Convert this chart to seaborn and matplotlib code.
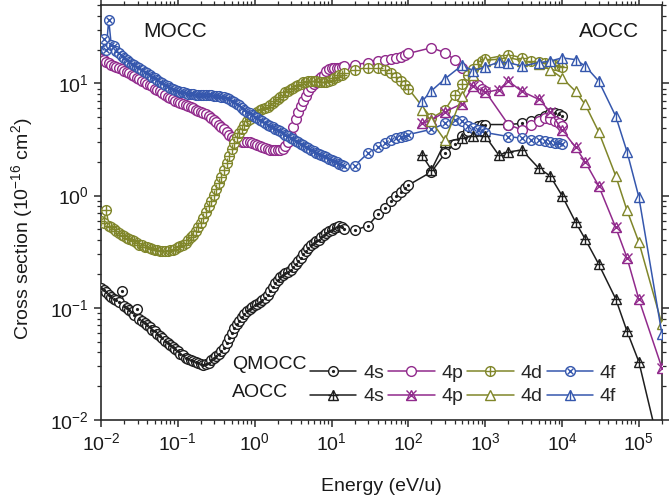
import matplotlib
matplotlib.use("Agg")
import matplotlib.pyplot as plt
import seaborn as sns
from matplotlib.lines import Line2D
from matplotlib.ticker import LogLocator, NullFormatter

# ---------------- data ----------------
# QMOCC, dense low-energy grid (eV/u)
E_dense = [0.0100, 0.0108, 0.0117, 0.0126, 0.0136, 0.0147, 0.0158, 0.0171, 0.0185, 0.0200,
           0.0215, 0.0233, 0.0251, 0.0271, 0.0293, 0.0316, 0.0341, 0.0369, 0.0398, 0.0430,
           0.0464, 0.0501, 0.0541, 0.0584, 0.0631, 0.0681, 0.0736, 0.0794, 0.0858, 0.0926,
           0.100, 0.108, 0.117, 0.126, 0.136, 0.147, 0.158, 0.171, 0.185, 0.200,
           0.215, 0.233, 0.251, 0.271, 0.293, 0.316, 0.341, 0.369, 0.398, 0.430,
           0.464, 0.501, 0.541, 0.584, 0.631, 0.681, 0.736, 0.794, 0.858, 0.926,
           1.00, 1.08, 1.17, 1.26, 1.36, 1.47, 1.58, 1.71, 1.85, 2.00,
           2.15, 2.33, 2.51, 2.71, 2.93, 3.16, 3.41, 3.69, 3.98, 4.30,
           4.64, 5.01, 5.41, 5.84, 6.31, 6.81, 7.36, 7.94, 8.58, 9.26,
           10.0, 10.8, 11.7, 12.6, 13.6, 14.7]
q4s_dense = [0.150, 0.144, 0.138, 0.131, 0.126, 0.121, 0.117, 0.112, 0.140, 0.103,
             0.099, 0.095, 0.091, 0.087, 0.097, 0.080, 0.077, 0.073, 0.070, 0.067,
             0.064, 0.062, 0.059, 0.056, 0.054, 0.051, 0.049, 0.047, 0.045, 0.043,
             0.041, 0.039, 0.038, 0.036, 0.035, 0.034, 0.0335, 0.033, 0.032, 0.0315,
             0.031, 0.0315, 0.032, 0.034, 0.0355, 0.037, 0.039, 0.041, 0.044, 0.049,
             0.054, 0.060, 0.066, 0.072, 0.077, 0.082, 0.088, 0.093, 0.097, 0.101,
             0.105, 0.109, 0.113, 0.117, 0.123, 0.130, 0.140, 0.152, 0.165, 0.178,
             0.188, 0.196, 0.203, 0.210, 0.218, 0.230, 0.245, 0.262, 0.280, 0.300,
             0.320, 0.340, 0.360, 0.375, 0.390, 0.405, 0.425, 0.445, 0.462, 0.480,
             0.495, 0.510, 0.525, 0.535, 0.525, 0.505]
q4p_dense = [16.5, 16.1, 15.6, 15.1, 14.7, 14.3, 14.0, 13.7, 13.4, 13.0,
             12.7, 12.3, 12.0, 11.6, 11.2, 10.9, 10.6, 10.2, 9.9, 9.7,
             9.4, 9.0, 8.8, 8.5, 8.2, 7.9, 7.6, 7.4, 7.2, 7.0,
             6.85, 6.75, 6.6, 6.45, 6.3, 6.15, 6.0, 5.85, 5.7, 5.55,
             5.4, 5.3, 5.1, 4.9, 4.7, 4.5, 4.3, 4.1, 3.9, 3.7,
             3.5, 3.3, 3.2, 3.1, 3.05, 3.0, 3.0, 3.0, 3.0, 2.95,
             2.9, 2.85, 2.78, 2.72, 2.66, 2.6, 2.57, 2.55, 2.54, 2.54,
             2.56, 2.62, 2.75, 3.0, 3.4, 4.1, 4.8, 5.6, 6.3, 7.0,
             7.8, 8.5, 9.3, 9.8, 10.4, 11.0, 11.5, 12.0, 12.8, 13.4,
             13.6, 13.6, 13.6, 13.8, 14.0, 14.3]
q4d_dense = [0.60, 0.57, 0.75, 0.54, 0.52, 0.50, 0.48, 0.465, 0.45, 0.435,
             0.42, 0.41, 0.40, 0.39, 0.375, 0.365, 0.36, 0.35, 0.345, 0.34,
             0.335, 0.33, 0.325, 0.32, 0.32, 0.32, 0.322, 0.325, 0.33, 0.335,
             0.345, 0.355, 0.365, 0.38, 0.40, 0.425, 0.45, 0.48, 0.52, 0.57,
             0.63, 0.71, 0.80, 0.90, 1.02, 1.15, 1.30, 1.48, 1.68, 1.95,
             2.25, 2.6, 2.95, 3.3, 3.65, 3.95, 4.3, 4.6, 4.85, 5.1,
             5.35, 5.55, 5.75, 5.9, 6.05, 6.2, 6.4, 6.65, 6.9, 7.2,
             7.55, 7.9, 8.3, 8.6, 8.9, 9.15, 9.4, 9.7, 9.95, 10.2,
             10.4, 10.55, 10.6, 10.55, 10.45, 10.3, 10.2, 10.2, 10.3, 10.5,
             10.8, 11.1, 11.5, 11.8, 12.0, 12.3]
q4f_dense = [21.0, 25.0, 20.0, 37.0, 22.0, 21.5, 19.5, 18.5, 17.5, 16.8,
             16.2, 15.6, 15.0, 14.5, 14.0, 13.6, 13.1, 12.7, 12.3, 11.9,
             11.5, 11.1, 10.7, 10.3, 10.0, 9.7, 9.4, 9.1, 8.9, 8.7,
             8.55, 8.4, 8.3, 8.2, 8.1, 8.0, 8.0, 7.95, 7.9, 7.9,
             7.9, 7.9, 7.9, 7.85, 7.8, 7.8, 7.7, 7.6, 7.5, 7.35,
             7.2, 7.0, 6.8, 6.6, 6.4, 6.1, 5.85, 5.6, 5.4, 5.2,
             5.05, 4.9, 4.75, 4.6, 4.45, 4.3, 4.2, 4.05, 3.95, 3.85,
             3.75, 3.62, 3.5, 3.4, 3.28, 3.18, 3.08, 2.98, 2.88, 2.8,
             2.72, 2.64, 2.56, 2.48, 2.42, 2.36, 2.3, 2.25, 2.2, 2.14,
             2.08, 2.03, 1.98, 1.93, 1.88, 1.83]

# QMOCC, sparse high-energy grid (eV/u)
E_sparse = [20, 30, 40, 50, 60, 70, 80, 90, 100,
            200, 300, 400, 500, 600, 700, 800, 900, 1000,
            2000, 3000, 4000, 5000, 6000, 7000, 8000, 9000, 10000]
q4s_sparse = [0.49, 0.54, 0.68, 0.78, 0.90, 1.00, 1.08, 1.16, 1.24,
              1.63, 2.38, 2.90, 3.40, 3.80, 4.00, 4.15, 4.25, 4.30,
              4.30, 4.40, 4.60, 4.80, 5.10, 5.40, 5.40, 5.30, 5.10]
q4p_sparse = [14.7, 15.3, 15.8, 16.3, 16.5, 16.9, 17.3, 17.8, 18.5,
              20.8, 18.8, 16.3, 13.8, 12.0, 10.5, 9.6, 9.0, 8.5,
              4.3, 3.85, 4.3, 4.6, 4.9, 4.8, 4.6, 4.4, 4.2]
q4d_sparse = [13.3, 13.8, 13.8, 13.3, 12.4, 11.5, 10.5, 9.6, 9.0,
              4.9, 5.8, 7.9, 9.8, 12.0, 13.5, 14.8, 15.8, 16.5,
              18.1, 16.9, 15.8, 15.5, 15.3, 15.0, 14.6, 14.3, 14.0]
q4f_sparse = [1.85, 2.4, 2.7, 2.95, 3.1, 3.25, 3.35, 3.42, 3.5,
              3.9, 4.4, 4.7, 4.6, 4.2, 4.0, 3.85, 3.75, 3.65,
              3.36, 3.25, 3.15, 3.1, 3.05, 3.0, 2.95, 2.92, 2.9]

# AOCC grid (eV/u)
E_aocc = [150, 200, 300, 500, 700, 1000, 1500, 2000, 3000, 5000,
          7000, 10000, 15000, 20000, 30000, 50000, 70000, 100000, 200000]
a4s = [2.3, 1.7, 3.0, 3.25, 3.4, 3.4, 2.3, 2.45, 2.55, 1.75,
       1.5, 1.0, 0.58, 0.41, 0.245, 0.12, 0.062, 0.033, 0.0045]
a4p = [4.4, 4.7, 5.6, 6.6, 9.5, 8.3, 8.8, 10.5, 8.5, 7.2,
       5.6, 3.85, 2.7, 2.0, 1.22, 0.52, 0.28, 0.119, 0.029]
a4d = [5.8, 4.6, 3.1, 7.7, 12.0, 16.0, 16.5, 17.0, 16.0, 14.8,
       13.3, 11.2, 8.5, 6.5, 3.7, 1.5, 0.74, 0.385, 0.071]
a4f = [6.9, 8.6, 11.0, 14.5, 13.0, 14.0, 15.5, 15.3, 14.3, 15.3,
       15.8, 16.9, 16.3, 14.3, 10.5, 5.1, 2.47, 0.97, 0.058]

orbitals = ["4s", "4p", "4d", "4f"]
colors = {"4s": "#1e1e1e", "4p": "#912a8c", "4d": "#80862a", "4f": "#3557ad"}

# ---------------- style ----------------
sns.set_theme(style="ticks")
plt.rcParams["font.family"] = ["Liberation Sans", "DejaVu Sans"]
plt.rcParams["mathtext.fontset"] = "custom"
plt.rcParams["mathtext.rm"] = "Liberation Sans"
plt.rcParams["mathtext.it"] = "Liberation Sans:italic"
plt.rcParams["mathtext.bf"] = "Liberation Sans:bold"
plt.rcParams["axes.unicode_minus"] = False

FS = 14
MS = 7.0
MS_TRI = 7.4
MEW = 1.0
LW = 1.1

fig = plt.figure(figsize=(6.71, 5.04), dpi=100)
ax = fig.add_axes([101 / 671, 84 / 504, 561 / 671, 415 / 504])
ax.set_xscale("log")
ax.set_yscale("log")


def draw(E, V, color, base, size, overlay=None, ov_size=None):
    sns.lineplot(x=E, y=V, ax=ax, color=color, linewidth=LW, marker=base,
                 markersize=size, markerfacecolor="white", markeredgecolor=color,
                 markeredgewidth=MEW, estimator=None, sort=False, legend=False,
                 zorder=3)
    if overlay is not None:
        sns.lineplot(x=E, y=V, ax=ax, color=color, linestyle="", marker=overlay,
                     markersize=ov_size, markerfacecolor=color,
                     markeredgecolor=color, markeredgewidth=MEW,
                     estimator=None, sort=False, legend=False, zorder=3)


def proxy(color, base, size, overlay=None, ov_size=None):
    h1 = Line2D([], [], color=color, lw=LW, marker=base, ms=size, mfc="white",
                mec=color, mew=MEW)
    if overlay is None:
        return h1
    h2 = Line2D([], [], color=color, ls="", marker=overlay, ms=ov_size,
                mfc=color, mec=color, mew=MEW)
    return (h1, h2)


q_dense = {"4s": q4s_dense, "4p": q4p_dense, "4d": q4d_dense, "4f": q4f_dense}
q_sparse = {"4s": q4s_sparse, "4p": q4p_sparse, "4d": q4d_sparse, "4f": q4f_sparse}
a_vals = {"4s": a4s, "4p": a4p, "4d": a4d, "4f": a4f}

q_style = {"4s": ("o", MS, ".", 2.6), "4p": ("o", MS, None, None),
           "4d": ("o", MS, "+", MS), "4f": ("o", MS, "x", MS * 0.68)}
a_style = {"4s": ("^", MS_TRI, "+", MS_TRI * 0.95), "4p": ("^", MS_TRI, "x", MS_TRI * 1.05),
           "4d": ("^", MS_TRI, None, None), "4f": ("^", MS_TRI, "|", MS_TRI * 0.95)}

for orb in orbitals:
    base, size, ov, ovs = q_style[orb]
    draw(E_dense + E_sparse, q_dense[orb] + q_sparse[orb], colors[orb], base, size, ov, ovs)
for orb in orbitals:
    base, size, ov, ovs = a_style[orb]
    draw(E_aocc, a_vals[orb], colors[orb], base, size, ov, ovs)

# ---------------- axes ----------------
ax.set_xlim(1e-2, 2e5)
ax.set_ylim(1e-2, 50)
ax.xaxis.set_major_locator(LogLocator(base=10, numticks=20))
ax.xaxis.set_minor_locator(LogLocator(base=10, subs=range(2, 10), numticks=100))
ax.yaxis.set_major_locator(LogLocator(base=10, numticks=20))
ax.yaxis.set_minor_locator(LogLocator(base=10, subs=range(2, 10), numticks=100))
ax.xaxis.set_minor_formatter(NullFormatter())
ax.yaxis.set_minor_formatter(NullFormatter())

for s in ax.spines.values():
    s.set_linewidth(1.2)
    s.set_color("#2a2a2a")
ax.tick_params(which="both", direction="out", top=True, right=True,
               color="#2a2a2a", labelsize=FS, labelcolor="#1a1a1a")
ax.tick_params(which="major", length=5, width=1.1, pad=4)
ax.tick_params(which="minor", length=3, width=0.9)

ax.set_xlabel("Energy (eV/u)", fontsize=FS, color="#1a1a1a")
ax.set_ylabel("Cross section (10$^{-16}$ cm$^{2}$)", fontsize=FS, color="#1a1a1a")
ax.xaxis.set_label_coords(0.5, -0.14)
ax.yaxis.set_label_coords(-0.118, 0.46)

# ---------------- annotations & legend ----------------
ax.text(0.132, 0.935, "MOCC", transform=ax.transAxes, ha="center", va="center",
        fontsize=15, color="#1a1a1a")
ax.text(0.906, 0.935, "AOCC", transform=ax.transAxes, ha="center", va="center",
        fontsize=15, color="#1a1a1a")
ax.text(0.234, 0.133, "QMOCC", transform=ax.transAxes, ha="left", va="center",
        fontsize=FS, color="#1a1a1a")
ax.text(0.234, 0.067, "AOCC", transform=ax.transAxes, ha="left", va="center",
        fontsize=FS, color="#1a1a1a")

handles, labels = [], []
for orb in orbitals:
    b, sz, o, s = q_style[orb]
    handles.append(proxy(colors[orb], b, sz, o, s))
    labels.append(orb)
    b, sz, o, s = a_style[orb]
    handles.append(proxy(colors[orb], b, sz, o, s))
    labels.append(orb)

ax.legend(handles, labels, ncol=4, loc="lower left", bbox_to_anchor=(0.372, 0.035),
          frameon=False, fontsize=FS, handlelength=2.4, handletextpad=0.35,
          columnspacing=0.2, labelspacing=0.3, borderpad=0, borderaxespad=0,
          numpoints=1)

fig.savefig("out.png", dpi=100)
